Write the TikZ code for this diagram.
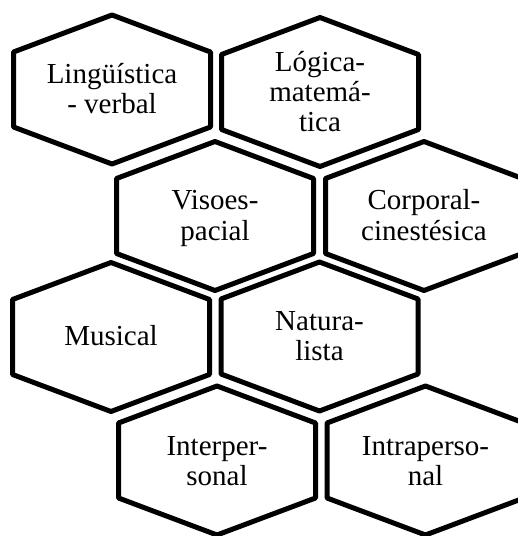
\documentclass[tikz,border=0pt]{standalone}
\usepackage{fontspec}
\setmainfont{Liberation Serif}
\begin{document}
\begin{tikzpicture}[x=1bp,y=-1bp,
  hexline/.style={line width=5bp,line join=round,black},
  hexa/.pic={\draw[hexline] (0,-74.5) -- (98.5,-37.5) -- (98.5,37.5) -- (0,74.5) -- (-98.5,37.5) -- (-98.5,-37.5) -- cycle;},
  lbl/.style={align=center,inner sep=0pt,anchor=base,font=\fontsize{29bp}{30bp}\selectfont}]
\useasboundingbox (0,0) rectangle (518,536);
\clip (0,0) rectangle (518,536);
\pic (h1) at (112,89.5) {hexa};
\pic (h2) at (320,92) {hexa};
\pic (h3) at (215,216) {hexa};
\pic (h4) at (424,216) {hexa};
\pic (h5) at (111,337) {hexa};
\pic (h6) at (319.5,336.5) {hexa};
\pic (h7) at (217,460.5) {hexa};
\pic (h8) at (425.5,460.5) {hexa};
\node[lbl] (t1) at (112,113.5) {Lingüística\\- verbal};
\node[lbl] (t2) at (320,132) {Lógica-\\matemá-\\tica};
\node[lbl] (t3) at (215,240) {Visoes-\\pacial};
\node[lbl] (t4) at (424,240) {Corporal-\\cinestésica};
\node[lbl] (t5) at (111,345.5) {Musical};
\node[lbl] (t6) at (319.5,360) {Natura-\\lista};
\node[lbl] (t7) at (217,485) {Interper-\\sonal};
\node[lbl] (t8) at (425.5,485) {Intraperso-\\nal};
\end{tikzpicture}
\end{document}
